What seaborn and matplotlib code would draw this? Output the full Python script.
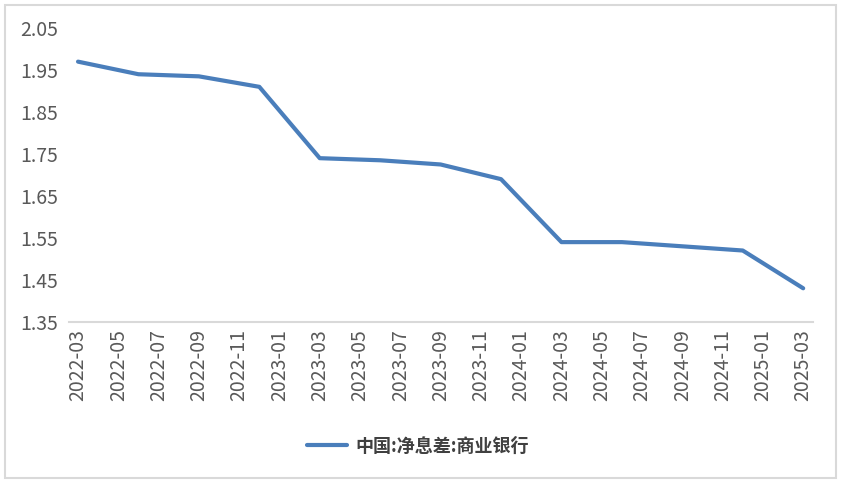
import matplotlib
matplotlib.use("Agg")
import matplotlib.pyplot as plt
import matplotlib.patches as mpatches
import pandas as pd
import seaborn as sns

# quarterly net interest margin of commercial banks (%)
dates = ["2022-03", "2022-06", "2022-09", "2022-12",
         "2023-03", "2023-06", "2023-09", "2023-12",
         "2024-03", "2024-06", "2024-09", "2024-12",
         "2025-03"]
nim = [1.97, 1.94, 1.935, 1.91,
       1.74, 1.735, 1.725, 1.69,
       1.54, 1.54, 1.53, 1.52,
       1.43]
series_name = "中国:净息差:商业银行"
y_ticks = [1.35, 1.45, 1.55, 1.65, 1.75, 1.85, 1.95, 2.05]

# month index relative to first date, so the axis keeps real time spacing
periods = pd.PeriodIndex(dates, freq="M")
start = periods[0]
df = pd.DataFrame({
    "month": [(p - start).n for p in periods],
    "value": nim,
})

tick_periods = pd.period_range(start, periods[-1], freq="M")[::2]
tick_pos = [(p - start).n for p in tick_periods]
tick_labels = [p.strftime("%Y-%m") for p in tick_periods]

sns.set_theme(style="white")
plt.rcParams["font.family"] = ["Noto Sans CJK SC", "DejaVu Sans"]

fig = plt.figure(figsize=(8.41, 4.84), dpi=100)
ax = fig.add_axes([0.082, 0.335, 0.885, 0.607])

sns.lineplot(data=df, x="month", y="value", ax=ax, color="#4a7ebb",
             linewidth=3.0, label=series_name)

ax.set_xlim(-0.45, 36.5)
ax.set_ylim(1.35, 2.05)
ax.set_yticks(y_ticks)
ax.set_yticklabels([f"{v:.2f}" for v in y_ticks])
ax.set_xticks(tick_pos)
ax.set_xticklabels(tick_labels, rotation=90)
ax.tick_params(axis="both", length=0, labelsize=14, labelcolor="#595959")
ax.tick_params(axis="y", pad=8)
ax.tick_params(axis="x", pad=5)
ax.set_xlabel("")
ax.set_ylabel("")

for side in ["top", "right", "left"]:
    ax.spines[side].set_visible(False)
ax.spines["bottom"].set_color("#d9d9d9")
ax.spines["bottom"].set_linewidth(1.5)

# legend centred on the figure below the axis labels
leg = ax.legend(loc="center", bbox_to_anchor=(0.497, 0.078),
                bbox_transform=fig.transFigure, frameon=False,
                handlelength=2.2, handletextpad=0.45, fontsize=13)
for t in leg.get_texts():
    t.set_color("#404040")
    t.set_fontweight("bold")

# light grey frame around the whole chart
fig.patches.append(mpatches.Rectangle((5 / 841, 6 / 484), 831 / 841, 473 / 484,
                                      transform=fig.transFigure, fill=False,
                                      edgecolor="#d9d9d9", linewidth=1.5))

fig.savefig("out.png", dpi=100)
